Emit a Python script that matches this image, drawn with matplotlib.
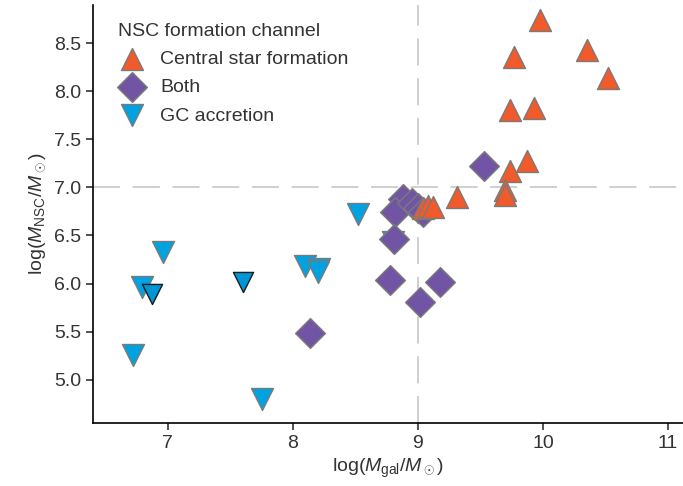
import numpy as np
import matplotlib
matplotlib.use("Agg")
import matplotlib.pyplot as plt

plt.rcParams['font.family'] = ['Liberation Sans', 'DejaVu Sans']
plt.rcParams['mathtext.fontset'] = 'custom'
plt.rcParams['mathtext.rm'] = 'Liberation Sans'
plt.rcParams['mathtext.it'] = 'Liberation Sans:italic'

# central star formation (upward triangles)
csf_x = [9.98, 10.35, 10.52, 9.77, 9.74, 9.93, 9.87, 9.74, 9.70, 9.70, 9.31, 9.04, 9.08, 9.12]
csf_y = [8.74, 8.43, 8.14, 8.36, 7.81, 7.83, 7.27, 7.17, 6.97, 6.92, 6.90, 6.79, 6.81, 6.80]

# both channels (diamonds)
both_x = [9.53, 8.88, 8.82, 8.95, 9.00, 9.04, 8.81, 8.78, 9.18, 9.02, 8.14]
both_y = [7.22, 6.88, 6.74, 6.84, 6.79, 6.74, 6.46, 6.04, 6.02, 5.81, 5.49]

# GC accretion (downward triangles)
gc_x = [6.72, 6.79, 6.96, 7.75, 8.52, 8.10, 8.21, 8.20, 8.80]
gc_y = [5.26, 5.96, 6.33, 4.80, 6.72, 6.18, 6.15, 6.12, 6.43]
# GC accretion, second sample (dark outline)
gc2_x = [6.87, 7.60]
gc2_y = [5.89, 6.02]

orange = '#F15A2B'
purple = '#7155A4'
blue = '#00A3E0'
edge = '#7a7a7a'

fig = plt.figure(figsize=(6.83, 4.86), dpi=100)
ax = fig.add_axes([0.136, 0.130, 0.864, 0.860])

ax.axvline(9, color='#cccccc', lw=1.3, dashes=(15, 7), zorder=0)
ax.axhline(7, color='#cccccc', lw=1.3, dashes=(15, 7), zorder=0)

ax.scatter(gc_x, gc_y, marker='v', s=250, c=blue, edgecolors=edge, linewidths=1.0,
           label='GC accretion', zorder=2)
ax.scatter(gc2_x, gc2_y, marker='v', s=210, c='#0096D6', edgecolors='#1a1a1a', linewidths=1.0,
           zorder=2)
ax.scatter(both_x, both_y, marker='D', s=230, c=purple, edgecolors=edge, linewidths=1.0,
           label='Both', zorder=3)
ax.scatter(csf_x, csf_y, marker='^', s=250, c=orange, edgecolors=edge, linewidths=1.0,
           label='Central star formation', zorder=4)

ax.set_xlim(6.4, 11.12)
ax.set_ylim(4.55, 8.9)
ax.set_xticks([7, 8, 9, 10, 11])
ax.set_yticks([5.0, 5.5, 6.0, 6.5, 7.0, 7.5, 8.0, 8.5])
ax.set_yticklabels(['5.0', '5.5', '6.0', '6.5', '7.0', '7.5', '8.0', '8.5'])
ax.tick_params(labelsize=14, length=5, width=1.2, colors='#333333', labelcolor='#333333')
for s in ['top', 'right']:
    ax.spines[s].set_visible(False)
for s in ['left', 'bottom']:
    ax.spines[s].set_linewidth(1.2)

ax.set_xlabel(r'log($M_{\rm gal}/M_\odot$)', fontsize=14, color='#333333')
ax.set_ylabel(r'log($M_{\rm NSC}/M_\odot$)', fontsize=14, color='#333333')

handles, labels = ax.get_legend_handles_labels()
order = [2, 1, 0]
leg = ax.legend([handles[i] for i in order], [labels[i] for i in order],
                title='NSC formation channel', loc='upper left', frameon=False,
                fontsize=14, title_fontsize=14, handletextpad=0.75, handlelength=1.4,
                borderaxespad=0.3, labelspacing=0.55, bbox_to_anchor=(0.02, 0.99))
for t in leg.get_texts():
    t.set_color('#333333')
leg.get_title().set_color('#333333')
leg._legend_box.align = 'left'

fig.savefig('out.png', dpi=100)
